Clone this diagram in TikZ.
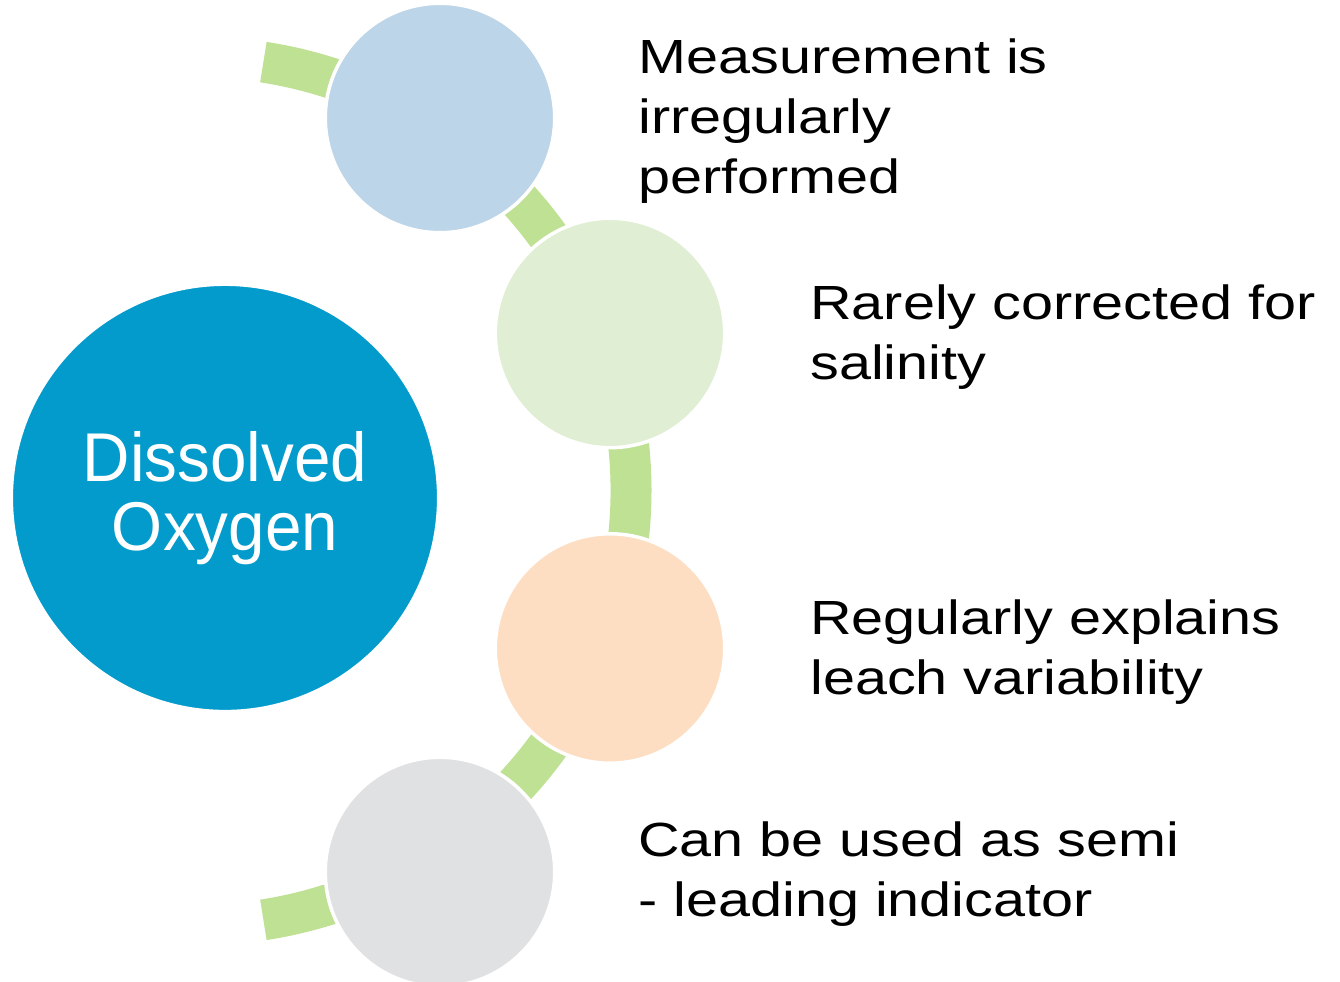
\documentclass[tikz,border=0pt]{standalone}
\usepackage{fontspec}
\setmainfont{Liberation Sans}
\newfontfamily\notefont[FakeStretch=1.2]{Liberation Sans}
\newfontfamily\hubfont[FakeStretch=0.95]{Liberation Sans}
\usepackage{tikz}
\usepackage{xcolor}
\definecolor{oxygenblue}{RGB}{2, 155, 204}
\definecolor{measureblue}{RGB}{189, 213, 232}
\definecolor{salinitygreen}{RGB}{224, 238, 212}
\definecolor{leachpeach}{RGB}{253, 222, 194}
\definecolor{indicatorgrey}{RGB}{224, 225, 227}
\definecolor{ringgreen}{RGB}{191, 225, 147}

\begin{document}
\begin{tikzpicture}[x=0.02cm, y=0.02cm,
        disc/.style={circle, draw=white, line width=2pt, inner sep=0pt, minimum size=4.59cm},
        note/.style={anchor=base west, align=left, inner sep=0pt,
            font=\notefont\fontsize{27.3}{34.4}\selectfont}]
        \useasboundingbox (0,0) rectangle (1340,982);

        % Green ring behind the small circles
        \coordinate (ring) at (197,491);
        \draw[ringgreen, line width=23.3pt] (ring) ++(81.2:434)
            arc[start angle=81.2, end angle=-81.2, radius=434];

        % Main topic
        \node[disc, fill=oxygenblue, minimum size=8.55cm, text=white, align=center,
            yshift=-2.8pt, font=\hubfont\fontsize{39.3}{39}\selectfont]
            (oxygen) at (225,489) {Dissolved\\Oxygen};

        % Small circles on the ring
        \node[disc, fill=measureblue] (measure) at (440,864) {};
        \node[disc, fill=salinitygreen] (salinity) at (610,649) {};
        \node[disc, fill=leachpeach] (leach) at (610,333.5) {};
        \node[disc, fill=indicatorgrey] (indicator) at (440,110) {};

        % Notes (anchored at the baseline of their last line)
        \node[note] (measuretext) at (638,788) {Measurement is\\irregularly\\performed};
        \node[note] (salinitytext) at (810,602) {Rarely corrected for\\salinity};
        \node[note] (leachtext) at (810,287) {Regularly explains\\leach variability};
        \node[note] (indicatortext) at (638,65) {Can be used as semi\\- leading indicator};
    \end{tikzpicture}
\end{document}
